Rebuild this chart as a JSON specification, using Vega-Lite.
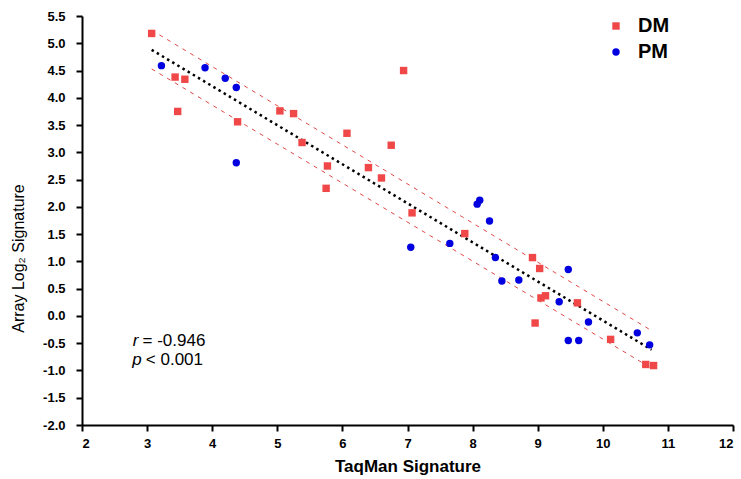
{
  "$schema": "https://vega.github.io/schema/vega-lite/v6.json",
  "width": 651,
  "height": 409,
  "autosize": {"type": "none"},
  "padding": {"left": 82, "top": 16, "right": 8, "bottom": 54},
  "background": "white",
  "config": {
    "view": {"stroke": null},
    "font": "Liberation Sans"
  },
  "datasets": {
    "points": [
      {"x": 3.07, "y": 5.18, "group": "DM"},
      {"x": 3.22, "y": 4.59, "group": "PM"},
      {"x": 3.43, "y": 4.38, "group": "DM"},
      {"x": 3.58, "y": 4.34, "group": "DM"},
      {"x": 3.47, "y": 3.75, "group": "DM"},
      {"x": 3.89, "y": 4.55, "group": "PM"},
      {"x": 4.20, "y": 4.36, "group": "PM"},
      {"x": 4.37, "y": 4.19, "group": "PM"},
      {"x": 4.39, "y": 3.56, "group": "DM"},
      {"x": 4.37, "y": 2.81, "group": "PM"},
      {"x": 5.04, "y": 3.76, "group": "DM"},
      {"x": 5.25, "y": 3.71, "group": "DM"},
      {"x": 5.38, "y": 3.18, "group": "DM"},
      {"x": 6.94, "y": 4.50, "group": "DM"},
      {"x": 6.07, "y": 3.35, "group": "DM"},
      {"x": 6.75, "y": 3.13, "group": "DM"},
      {"x": 5.77, "y": 2.75, "group": "DM"},
      {"x": 6.40, "y": 2.72, "group": "DM"},
      {"x": 6.60, "y": 2.53, "group": "DM"},
      {"x": 5.75, "y": 2.34, "group": "DM"},
      {"x": 7.07, "y": 1.89, "group": "DM"},
      {"x": 7.88, "y": 1.51, "group": "DM"},
      {"x": 8.07, "y": 2.05, "group": "PM"},
      {"x": 8.11, "y": 2.12, "group": "PM"},
      {"x": 8.26, "y": 1.74, "group": "PM"},
      {"x": 7.05, "y": 1.26, "group": "PM"},
      {"x": 7.65, "y": 1.33, "group": "PM"},
      {"x": 8.35, "y": 1.07, "group": "PM"},
      {"x": 8.45, "y": 0.64, "group": "PM"},
      {"x": 8.71, "y": 0.66, "group": "PM"},
      {"x": 8.92, "y": 1.07, "group": "DM"},
      {"x": 9.03, "y": 0.87, "group": "DM"},
      {"x": 9.47, "y": 0.85, "group": "PM"},
      {"x": 9.05, "y": 0.33, "group": "DM"},
      {"x": 9.12, "y": 0.37, "group": "DM"},
      {"x": 9.33, "y": 0.26, "group": "PM"},
      {"x": 9.61, "y": 0.24, "group": "DM"},
      {"x": 8.96, "y": -0.13, "group": "DM"},
      {"x": 9.78, "y": -0.11, "group": "PM"},
      {"x": 9.47, "y": -0.45, "group": "PM"},
      {"x": 9.63, "y": -0.45, "group": "PM"},
      {"x": 10.12, "y": -0.43, "group": "DM"},
      {"x": 10.53, "y": -0.31, "group": "PM"},
      {"x": 10.72, "y": -0.53, "group": "PM"},
      {"x": 10.66, "y": -0.89, "group": "DM"},
      {"x": 10.78, "y": -0.91, "group": "DM"}
    ],
    "lines": [
      {"x": 3.07, "y": 4.88, "series": "fit"},
      {"x": 10.75, "y": -0.62, "series": "fit"},
      {"x": 3.07, "y": 5.24, "series": "upper"},
      {"x": 10.75, "y": -0.27, "series": "upper"},
      {"x": 3.07, "y": 4.53, "series": "lower"},
      {"x": 10.75, "y": -0.96, "series": "lower"}
    ],
    "notes": [
      {"x": 2.78, "y": -0.46, "t": "r", "style": "italic"},
      {"x": 2.93, "y": -0.46, "t": "= -0.946", "style": "normal"},
      {"x": 2.77, "y": -0.81, "t": "p", "style": "italic"},
      {"x": 2.98, "y": -0.81, "t": "< 0.001", "style": "normal"}
    ]
  },
  "encoding": {
    "x": {"field": "x", "type": "quantitative", "scale": {"domain": [2, 12], "nice": false},
      "axis": {"title": "TaqMan Signature", "tickCount": 10, "format": "d", "grid": false, "labelOverlap": false,
        "domainColor": "black", "domainWidth": 2, "tickColor": "black", "tickWidth": 2, "tickSize": 6,
        "labelFont": "Liberation Sans", "labelFontSize": 13, "labelFontWeight": "bold", "labelColor": "black", "labelPadding": 6,
        "titleFont": "Liberation Sans", "titleFontSize": 17, "titleFontWeight": "bold", "titleColor": "black", "titlePadding": 8}},
    "y": {"field": "y", "type": "quantitative", "scale": {"domain": [-2, 5.5], "nice": false},
      "axis": {"title": "Array Log₂ Signature", "tickCount": 15, "tickMinStep": 0.5, "format": ".1f",
        "labelExpr": "replace(datum.label, '−', '-')", "grid": false,
        "labelOverlap": false, "labelBound": false, "labelFlush": false,
        "domainColor": "black", "domainWidth": 2, "tickColor": "black", "tickWidth": 2, "tickSize": 6,
        "labelFont": "Liberation Sans", "labelFontSize": 13, "labelFontWeight": "bold", "labelColor": "black", "labelPadding": 11,
        "titleFont": "Liberation Sans", "titleFontSize": 16, "titleFontWeight": "normal", "titleColor": "black",
        "titleX": -64, "titleY": 242, "titleAngle": 270, "titleAlign": "center", "titleBaseline": "middle"}}
  },
  "layer": [
    {
      "data": {"name": "lines"},
      "transform": [{"filter": "datum.series !== 'fit'"}],
      "mark": {"type": "line", "color": "#e04848", "strokeWidth": 1, "strokeDash": [4, 5]},
      "encoding": {
        "detail": {"field": "series"}
      }
    },
    {
      "data": {"name": "lines"},
      "transform": [{"filter": "datum.series === 'fit'"}],
      "mark": {"type": "line", "color": "black", "strokeWidth": 2.5, "strokeDash": [2.5, 3.5]},
      "encoding": {}
    },
    {
      "data": {"name": "points"},
      "mark": {"type": "point", "filled": true, "opacity": 1, "size": 55},
      "encoding": {
        "color": {"field": "group", "type": "nominal",
          "scale": {"domain": ["DM", "PM"], "range": ["#f04848", "#0000e0"]},
          "legend": {"title": null, "orient": "none", "legendX": 524, "legendY": 0,
            "labelFont": "Liberation Sans", "labelFontSize": 20, "labelFontWeight": "bold", "labelColor": "black",
            "symbolSize": 55, "rowPadding": 6, "labelOffset": 12}},
        "shape": {"field": "group", "type": "nominal",
          "scale": {"domain": ["DM", "PM"], "range": ["square", "circle"]}}
      }
    },
    {
      "data": {"name": "notes"},
      "transform": [{"filter": "datum.style === 'italic'"}],
      "mark": {"type": "text", "align": "left", "baseline": "middle", "fontSize": 17, "fontStyle": "italic", "font": "Liberation Sans", "color": "black"},
      "encoding": {
        "text": {"field": "t"}
      }
    },
    {
      "data": {"name": "notes"},
      "transform": [{"filter": "datum.style === 'normal'"}],
      "mark": {"type": "text", "align": "left", "baseline": "middle", "fontSize": 17, "font": "Liberation Sans", "color": "black"},
      "encoding": {
        "text": {"field": "t"}
      }
    }
  ]
}
